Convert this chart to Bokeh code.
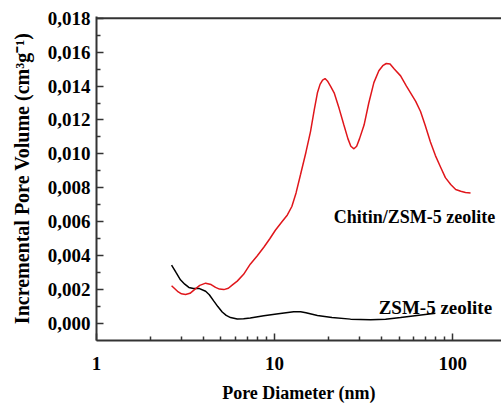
from bokeh.plotting import figure
from bokeh.models import (FixedTicker, CustomJSTickFormatter, Label, Span)
from bokeh.embed import file_html
from bokeh.resources import INLINE

# ---- data ----
zsm_x = [2.64, 2.8, 2.96, 3.13, 3.30, 3.5, 3.76, 4.10, 4.3, 4.56, 4.8, 5.08, 5.35,
         5.66, 6.17, 6.7, 7.3, 8.7, 10.5, 12.8, 14.0, 15.0, 17.4, 21.0, 26.7,
         34.6, 42.0, 51.0, 63.0, 80.0]
zsm_y = [0.00345, 0.00300, 0.00258, 0.00232, 0.00213, 0.00207, 0.00207, 0.00190,
         0.00170, 0.00132, 0.00100, 0.00068, 0.00048, 0.00035, 0.00027, 0.00028,
         0.00033, 0.00046, 0.00058, 0.00069, 0.00069, 0.00063, 0.00048, 0.00035,
         0.00026, 0.00022, 0.00025, 0.00035, 0.00048, 0.00060]

chit_x = [2.64, 2.85, 3.0, 3.16, 3.35, 3.55, 3.8, 4.1, 4.4, 4.66, 4.9, 5.19, 5.5,
          5.8, 6.17, 6.7, 7.3, 8.0, 8.7, 9.4, 10.1, 11.0, 11.8, 12.5, 13.2, 14.0,
          15.0, 15.9, 16.7, 17.4, 18.0, 18.6, 19.2, 19.8, 20.6, 21.6, 23.0, 24.5,
          25.8, 26.8, 27.9, 28.9, 30.0, 31.8, 33.8, 36.1, 38.5, 40.5, 42.4, 44.5,
          47.0, 51.0, 55.0, 58.0, 62.0, 66.0, 70.0, 75.0, 80.0, 85.7, 91.0, 97.5,
          104.0, 111.0, 118.0, 126.0]
chit_y = [0.00223, 0.00190, 0.00175, 0.00171, 0.00178, 0.00200, 0.00225, 0.00238,
          0.00230, 0.00213, 0.00203, 0.00200, 0.00208, 0.00228, 0.00250, 0.00290,
          0.00350, 0.00400, 0.00450, 0.00500, 0.00550, 0.00600, 0.00640, 0.00690,
          0.00770, 0.00880, 0.01010, 0.01130, 0.01260, 0.01360, 0.01410, 0.01435,
          0.01444, 0.01430, 0.01400, 0.01360, 0.01270, 0.01170, 0.01090, 0.01045,
          0.01030, 0.01045, 0.01090, 0.01170, 0.01300, 0.01420, 0.01490, 0.01520,
          0.01533, 0.01530, 0.01500, 0.01460, 0.01400, 0.01360, 0.01310, 0.01250,
          0.01170, 0.01070, 0.00990, 0.00920, 0.00860, 0.00820, 0.00790, 0.00780,
          0.00772, 0.00770]

x_major = [1, 10, 100]
x_minor = [2, 3, 4, 5, 6, 7, 8, 9, 20, 30, 40, 50, 60, 70, 80, 90]
y_major = [0.000, 0.002, 0.004, 0.006, 0.008, 0.010, 0.012, 0.014, 0.016, 0.018]
y_minor = [0.001, 0.003, 0.005, 0.007, 0.009, 0.011, 0.013, 0.015, 0.017]

FONT = "Liberation Serif"
AX = "#333333"

p = figure(width=501, height=405, x_axis_type="log",
           x_range=(1, 188), y_range=(-0.001, 0.0181),
           output_backend="svg", toolbar_location=None,
           min_border_left=96, min_border_right=0, min_border_top=16,
           min_border_bottom=60)
p.outline_line_color = None
p.grid.visible = False
p.background_fill_color = "white"

p.line(zsm_x, zsm_y, line_color="black", line_width=1.5)
p.line(chit_x, chit_y, line_color="#e0161b", line_width=1.5)

xa = p.xaxis[0]
xa.ticker = FixedTicker(ticks=x_major, minor_ticks=x_minor)
xa.formatter = CustomJSTickFormatter(code="return String(Math.round(tick));")
ya = p.yaxis[0]
ya.ticker = FixedTicker(ticks=y_major, minor_ticks=y_minor)
ya.formatter = CustomJSTickFormatter(code="return tick.toFixed(3).replace('.', ',');")

for ax in (xa, ya):
    ax.axis_line_color = AX
    ax.axis_line_width = 2
    ax.major_tick_line_color = AX
    ax.minor_tick_line_color = AX
    ax.major_tick_line_width = 1.5
    ax.minor_tick_line_width = 1.5
    ax.major_tick_in = 7
    ax.major_tick_out = 0
    ax.minor_tick_in = 4
    ax.minor_tick_out = 0
    ax.major_label_text_font = FONT
    ax.major_label_text_font_style = "bold"
    ax.major_label_text_font_size = "19px"
    ax.major_label_text_color = "black"
    ax.axis_label_text_font = FONT
    ax.axis_label_text_font_style = "bold"
    ax.axis_label_text_color = "black"

xa.major_label_standoff = 16
xa.axis_label = "Pore Diameter (nm)"
xa.axis_label_text_font_size = "18px"
xa.axis_label_standoff = 10
ya.major_label_standoff = 6
ya.axis_label = "Incremental Pore Volume (cm³g⁻¹)"
ya.axis_label_text_font_size = "20px"
ya.axis_label_standoff = 12

# top frame line at the 0,018 level
p.add_layout(Span(location=0.018, dimension="width", line_color=AX, line_width=2))

p.add_layout(Label(x=21.5, y=0.00626, text="Chitin/ZSM-5 zeolite",
                   text_font=FONT, text_font_style="bold", text_font_size="18px",
                   text_color="black", text_baseline="alphabetic"))
p.add_layout(Label(x=38.4, y=0.00093, text="ZSM-5 zeolite",
                   text_font=FONT, text_font_style="bold", text_font_size="19px",
                   text_color="black", text_baseline="alphabetic"))

open("out.html", "w").write(file_html(p, INLINE))
